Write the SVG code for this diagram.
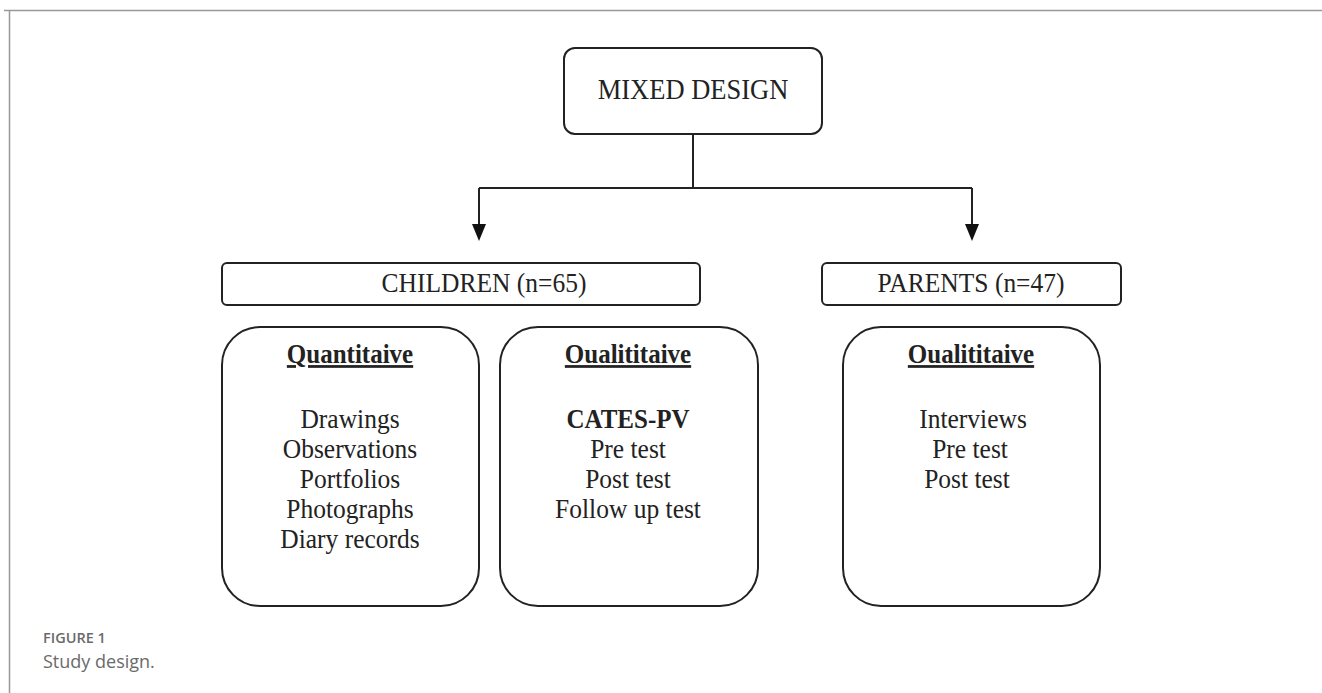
<svg xmlns="http://www.w3.org/2000/svg" width="1322" height="693" viewBox="0 0 1322 693">
<style>
.box{fill:#fff;stroke:#222;stroke-width:2}
.t{font-family:"Liberation Serif","Times New Roman",serif;fill:#222;text-anchor:middle}
.h{font-size:25.5px}
.b{font-weight:bold;font-size:25px}
.u{text-decoration:underline}
.i{font-size:25.5px}
.con{fill:none;stroke:#222;stroke-width:2}
.cap{font-family:"Open Sans","Noto Sans",sans-serif;fill:#6a6a6a}
</style>
<rect width="1322" height="693" fill="#fff"/>
<g id="frame" fill="none" stroke="#999" stroke-width="1.5">
<path d="M4,10.5 H1322 M9.5,10 V693"/>
</g>
<g id="connectors">
<path class="con" d="M693,134 V188"/>
<path class="con" d="M479,188 H972"/>
<path class="con" d="M479,188 V226"/>
<path class="con" d="M972,188 V226"/>
<path d="M472,224 L486,224 L479,241 Z" fill="#111"/>
<path d="M965,224 L979,224 L972,241 Z" fill="#111"/>
</g>
<g id="mixed">
<rect class="box" x="564" y="48" width="258" height="86" rx="11"/>
<text class="t" transform="translate(693,99) scale(1,1.12)" font-size="26.5">MIXED DESIGN</text>
</g>
<g id="children">
<rect class="box" x="222" y="263" width="478" height="42" rx="5"/>
<text class="t h" transform="translate(484,292) scale(1,1.1)">CHILDREN (n=65)</text>
</g>
<g id="parents">
<rect class="box" x="822" y="263" width="299" height="42" rx="5"/>
<text class="t h" transform="translate(971,292) scale(1,1.1)">PARENTS (n=47)</text>
</g>
<g id="quant">
<rect class="box" x="222" y="327" width="257" height="279" rx="38"/>
<text class="t b u" transform="translate(350,363) scale(1,1.1)">Quantitaive</text>
<text class="t i" transform="translate(350,428) scale(1,1.1)">Drawings</text>
<text class="t i" transform="translate(350,458) scale(1,1.1)">Observations</text>
<text class="t i" transform="translate(350,488) scale(1,1.1)">Portfolios</text>
<text class="t i" transform="translate(350,518) scale(1,1.1)">Photographs</text>
<text class="t i" transform="translate(350,548) scale(1,1.1)">Diary records</text>
</g>
<g id="qual-children">
<rect class="box" x="500" y="327" width="258" height="279" rx="38"/>
<text class="t b u" transform="translate(628,363) scale(1,1.1)">Oualititaive</text>
<text class="t b" transform="translate(628,428) scale(1,1.1)">CATES-PV</text>
<text class="t i" transform="translate(628,458) scale(1,1.1)">Pre test</text>
<text class="t i" transform="translate(628,488) scale(1,1.1)">Post test</text>
<text class="t i" transform="translate(628,518) scale(1,1.1)">Follow up test</text>
</g>
<g id="qual-parents">
<rect class="box" x="843" y="327" width="257" height="279" rx="38"/>
<text class="t b u" transform="translate(971,363) scale(1,1.1)">Oualititaive</text>
<text class="t i" transform="translate(973,428) scale(1,1.1)">Interviews</text>
<text class="t i" transform="translate(970,458) scale(1,1.1)">Pre test</text>
<text class="t i" transform="translate(967,488) scale(1,1.1)">Post test</text>
</g>
<g id="caption">
<text class="cap" x="43" y="643" font-size="14.5" font-weight="600">FIGURE 1</text>
<text class="cap" x="43" y="668" font-size="18" fill="#5a5a5a">Study design.</text>
</g>
</svg>
